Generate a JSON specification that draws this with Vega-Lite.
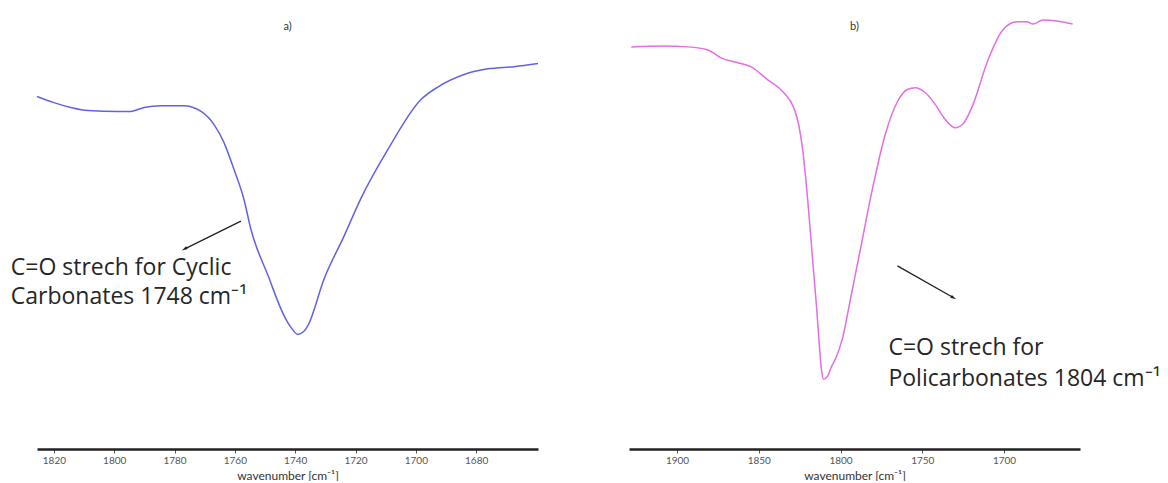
{
  "$schema": "https://vega.github.io/schema/vega-lite/v6.json",
  "padding": {"left": 10, "top": 10, "right": 0, "bottom": 0},
  "background": "white",
  "spacing": 87,
  "config": {
    "view": {"stroke": null},
    "font": "Lato",
    "axis": {
      "domainColor": "#222222",
      "domainWidth": 2.5,
      "tickColor": "#555555",
      "tickSize": 4,
      "tickWidth": 1,
      "labelColor": "#555555",
      "labelFontSize": 10,
      "labelPadding": 2,
      "titleFontSize": 12,
      "titleFontWeight": "normal",
      "titleColor": "#333333",
      "titlePadding": 5,
      "grid": false,
      "format": "d"
    },
    "title": {"fontSize": 11, "fontWeight": "normal", "color": "#333333", "offset": -22}
  },
  "datasets": {
    "a": [
      {"wn": 1825.6, "T": 80.3}, {"wn": 1820.0, "T": 78.9}, {"wn": 1814.4, "T": 77.8},
      {"wn": 1808.7, "T": 77.1}, {"wn": 1798.8, "T": 76.9}, {"wn": 1794.5, "T": 76.9},
      {"wn": 1790.1, "T": 77.8}, {"wn": 1784.5, "T": 78.2}, {"wn": 1776.9, "T": 78.2},
      {"wn": 1771.2, "T": 76.9}, {"wn": 1766.9, "T": 73.9}, {"wn": 1763.6, "T": 69.8},
      {"wn": 1760.3, "T": 63.7}, {"wn": 1757.0, "T": 56.9}, {"wn": 1754.7, "T": 50.1},
      {"wn": 1749.0, "T": 39.5}, {"wn": 1743.7, "T": 30.4}, {"wn": 1741.4, "T": 27.7},
      {"wn": 1739.1, "T": 26.1}, {"wn": 1737.1, "T": 26.8}, {"wn": 1735.8, "T": 28.1},
      {"wn": 1730.4, "T": 38.8}, {"wn": 1723.8, "T": 48.5}, {"wn": 1718.2, "T": 57.1},
      {"wn": 1709.2, "T": 68.3}, {"wn": 1698.3, "T": 79.6}, {"wn": 1692.6, "T": 82.5},
      {"wn": 1684.0, "T": 85.3}, {"wn": 1676.1, "T": 86.6}, {"wn": 1667.4, "T": 87.1},
      {"wn": 1659.5, "T": 87.8}
    ],
    "b": [
      {"wn": 1928.0, "T": 91.6}, {"wn": 1907.9, "T": 91.8}, {"wn": 1893.3, "T": 91.6},
      {"wn": 1881.1, "T": 90.9}, {"wn": 1873.2, "T": 89.1}, {"wn": 1862.8, "T": 88.0},
      {"wn": 1854.9, "T": 87.1}, {"wn": 1844.5, "T": 84.1}, {"wn": 1834.8, "T": 81.2},
      {"wn": 1828.7, "T": 77.8}, {"wn": 1825.6, "T": 73.9}, {"wn": 1823.2, "T": 68.3},
      {"wn": 1820.1, "T": 56.9}, {"wn": 1817.1, "T": 43.3}, {"wn": 1814.6, "T": 32.0},
      {"wn": 1812.8, "T": 22.9}, {"wn": 1811.6, "T": 17.9}, {"wn": 1810.4, "T": 15.9},
      {"wn": 1807.9, "T": 16.6}, {"wn": 1805.5, "T": 18.8}, {"wn": 1803.0, "T": 20.6},
      {"wn": 1798.8, "T": 25.2}, {"wn": 1793.9, "T": 34.2}, {"wn": 1787.8, "T": 45.6},
      {"wn": 1780.5, "T": 59.2}, {"wn": 1772.6, "T": 71.7}, {"wn": 1765.2, "T": 79.1},
      {"wn": 1759.1, "T": 81.9}, {"wn": 1754.3, "T": 82.3}, {"wn": 1748.2, "T": 81.2},
      {"wn": 1742.1, "T": 78.5}, {"wn": 1736.0, "T": 75.1}, {"wn": 1729.9, "T": 73.2},
      {"wn": 1725.0, "T": 74.1}, {"wn": 1718.9, "T": 78.5}, {"wn": 1710.4, "T": 88.0},
      {"wn": 1700.6, "T": 95.5}, {"wn": 1692.1, "T": 97.3}, {"wn": 1686.0, "T": 97.3},
      {"wn": 1682.3, "T": 96.8}, {"wn": 1676.2, "T": 97.7}, {"wn": 1667.7, "T": 97.5},
      {"wn": 1658.0, "T": 96.8}
    ],
    "arrowA": [{"wn": 1776.6, "T": 45.6, "wn2": 1758.0, "T2": 51.9}],
    "arrowB": [{"wn": 1731.1, "T": 34.5, "wn2": 1765.2, "T2": 41.7}],
    "textA": [{"wn": 1834.3, "T": 43.8, "label": "C=O strech for Cyclic\nCarbonates 1748 cm⁻¹"}],
    "textB": [{"wn": 1770.7, "T": 25.4, "label": "C=O strech for\nPolicarbonates 1804 cm⁻¹"}]
  },
  "hconcat": [
    {
      "width": 501,
      "height": 439,
      "title": {"text": "a)"},
      "encoding": {
        "x": {"field": "wn", "type": "quantitative",
              "scale": {"domain": [1659.5, 1825.6], "reverse": true, "nice": false, "zero": false},
              "axis": {"values": [1820, 1800, 1780, 1760, 1740, 1720, 1700, 1680], "title": "wavenumber [cm⁻¹]"}},
        "y": {"field": "T", "type": "quantitative", "scale": {"domain": [0, 100], "nice": false}, "axis": null}
      },
      "layer": [
        {"data": {"name": "a"}, "mark": {"type": "line", "interpolate": "monotone", "color": "#6262e6", "strokeWidth": 1.5}},
        {"data": {"name": "arrowA"}, "mark": {"type": "rule", "color": "#222222", "strokeWidth": 1.3},
         "encoding": {"x2": {"field": "wn2"}, "y2": {"field": "T2"}}},
        {"data": {"name": "arrowA"}, "mark": {"type": "point", "shape": "M0,-1L0.45,0.7L-0.45,0.7Z", "angle": 241, "filled": true, "size": 50, "color": "#222222", "opacity": 1}},
        {"data": {"name": "textA"}, "mark": {"type": "text", "align": "left", "baseline": "top", "fontSize": 23, "lineHeight": 29, "lineBreak": "\n", "color": "#262626", "font": "Open Sans"},
         "encoding": {"text": {"field": "label"}}}
      ]
    },
    {
      "width": 451,
      "height": 439,
      "title": {"text": "b)"},
      "encoding": {
        "x": {"field": "wn", "type": "quantitative",
              "scale": {"domain": [1653.5, 1929.4], "reverse": true, "nice": false, "zero": false},
              "axis": {"values": [1900, 1850, 1800, 1750, 1700], "title": "wavenumber [cm⁻¹]"}},
        "y": {"field": "T", "type": "quantitative", "scale": {"domain": [0, 100], "nice": false}, "axis": null}
      },
      "layer": [
        {"data": {"name": "b"}, "mark": {"type": "line", "interpolate": "monotone", "color": "#e46ce4", "strokeWidth": 1.5}},
        {"data": {"name": "arrowB"}, "mark": {"type": "rule", "color": "#222222", "strokeWidth": 1.3},
         "encoding": {"x2": {"field": "wn2"}, "y2": {"field": "T2"}}},
        {"data": {"name": "arrowB"}, "mark": {"type": "point", "shape": "M0,-1L0.45,0.7L-0.45,0.7Z", "angle": 121, "filled": true, "size": 50, "color": "#222222", "opacity": 1}},
        {"data": {"name": "textB"}, "mark": {"type": "text", "align": "left", "baseline": "top", "fontSize": 23, "lineHeight": 31, "lineBreak": "\n", "color": "#262626", "font": "Open Sans"},
         "encoding": {"text": {"field": "label"}}}
      ]
    }
  ]
}
